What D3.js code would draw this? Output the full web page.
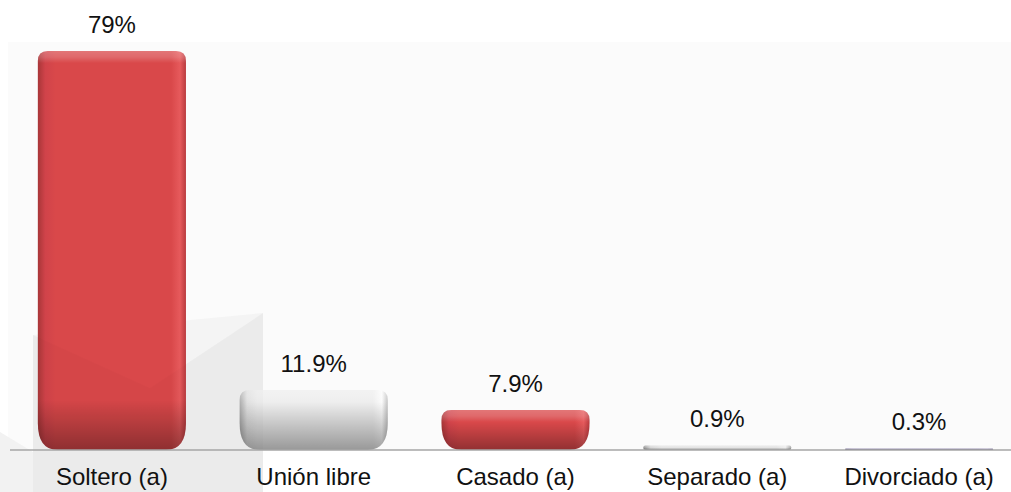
<!DOCTYPE html>
<html>
<head>
<meta charset="utf-8">
<script src="https://cdn.jsdelivr.net/npm/d3@7/dist/d3.min.js"></script>
<style>
  body { margin: 0; background: #ffffff; }
  text { font-family: "Liberation Sans", Arial, sans-serif; fill: #111; }
</style>
</head>
<body>
<script>
// categories and values (percent)
var categories = ["Soltero (a)", "Unión libre", "Casado (a)", "Separado (a)", "Divorciado (a)"];
var values = [79, 11.9, 7.9, 0.9, 0.3];
var valueLabels = ["79%", "11.9%", "7.9%", "0.9%", "0.3%"];
var barStyles = ["red", "white", "red", "gray", "purple"];

var W = 1011, H = 492;
var baseline = 450;

var svg = d3.select("body").append("svg")
    .attr("width", W)
    .attr("height", H);

var x = d3.scaleBand()
    .domain(categories)
    .range([11, 1020])
    .paddingInner(0.266)
    .paddingOuter(0.133);

var y = d3.scaleLinear()
    .domain([0, 80])
    .range([baseline, baseline - 404]);

var defs = svg.append("defs");

// horizontal gradients for the bar bodies
var palettes = {
    red:    ["#a83638", "#d0434a", "#d9484a", "#d9484a", "#e65a5c", "#b93a3e"],
    white:  ["#b0b0b0", "#e4e4e4", "#eeeeee", "#eeeeee", "#fbfbfb", "#c4c4c4"],
    gray:   ["#999999", "#d8d8d8", "#e4e4e4", "#e4e4e4", "#eeeeee", "#a8a8a8"],
    purple: ["#6f6690", "#8c82a8", "#9088ac", "#9088ac", "#9a92b4", "#786f98"]
};
var hOffsets = [0, 0.05, 0.12, 0.9, 0.96, 1];
Object.keys(palettes).forEach(function(k){
    var g = defs.append("linearGradient").attr("id", "h-" + k)
        .attr("x1", 0).attr("x2", 1).attr("y1", 0).attr("y2", 0);
    palettes[k].forEach(function(c, i){
        g.append("stop").attr("offset", hOffsets[i]).attr("stop-color", c);
    });
});

// plot background
svg.append("rect")
    .attr("x", 8).attr("y", 42)
    .attr("width", W - 8).attr("height", baseline - 42)
    .attr("fill", "#fbfbfb");

// faint watermark behind the bars
svg.append("polygon")
    .attr("points", "33,335 263,313 263,492 33,492")
    .attr("fill", "#f4f4f4");
svg.append("polygon")
    .attr("points", "33,335 150,388 263,313 263,492 33,492")
    .attr("fill", "#efefef");
svg.append("polygon")
    .attr("points", "0,432 33,452 33,492 0,492")
    .attr("fill", "#f2f2f2");

function barPath(x0, w, top, bottom){
    var h = bottom - top;
    if (h < 6) {
        var r = h / 2;
        return "M" + (x0 + r) + "," + top + "H" + (x0 + w - r) +
            "A" + r + "," + r + " 0 0 1 " + (x0 + w - r) + "," + bottom +
            "H" + (x0 + r) + "A" + r + "," + r + " 0 0 1 " + (x0 + r) + "," + top + "Z";
    }
    var rt = Math.min(10, h / 4);
    var rbx = 20, rby = Math.min(27, h - rt);
    return "M" + x0 + "," + (top + rt) +
        "Q" + x0 + "," + top + " " + (x0 + rt) + "," + top +
        "H" + (x0 + w - rt) +
        "Q" + (x0 + w) + "," + top + " " + (x0 + w) + "," + (top + rt) +
        "V" + (bottom - rby) +
        "Q" + (x0 + w) + "," + bottom + " " + (x0 + w - rbx) + "," + bottom +
        "H" + (x0 + rbx) +
        "Q" + x0 + "," + bottom + " " + x0 + "," + (bottom - rby) + "Z";
}

var data = categories.map(function(c, i){
    return { cat: c, value: values[i], label: valueLabels[i], style: barStyles[i] };
});

// per-bar vertical shading (top highlight, dark bottom)
data.forEach(function(d, i){
    var top = y(d.value), h = baseline - top;
    var g = defs.append("linearGradient").attr("id", "v-" + i)
        .attr("gradientUnits", "userSpaceOnUse")
        .attr("x1", 0).attr("x2", 0).attr("y1", top).attr("y2", baseline);
    var hi = Math.min(0.45, 12 / h);
    var darkStart = Math.max(hi, 1 - 50 / h);
    g.append("stop").attr("offset", 0).attr("stop-color", "#fff").attr("stop-opacity", 0.25);
    g.append("stop").attr("offset", hi * 0.5).attr("stop-color", "#fff").attr("stop-opacity", 0.18);
    g.append("stop").attr("offset", hi).attr("stop-color", "#fff").attr("stop-opacity", 0);
    g.append("stop").attr("offset", darkStart).attr("stop-color", "#000").attr("stop-opacity", 0);
    g.append("stop").attr("offset", 1).attr("stop-color", "#000").attr("stop-opacity", d.style === "white" ? 0.36 : 0.33);
});

var bars = svg.selectAll(".bar")
    .data(data)
    .enter().append("g")
    .attr("class", "bar");

bars.append("path")
    .attr("d", function(d){ return barPath(x(d.cat), x.bandwidth(), y(d.value), baseline); })
    .attr("fill", function(d){ return "url(#h-" + d.style + ")"; });

bars.append("path")
    .attr("d", function(d){ return barPath(x(d.cat), x.bandwidth(), y(d.value), baseline); })
    .attr("fill", function(d, i){ return "url(#v-" + i + ")"; });

// watermark glare over the tall bar
svg.append("polygon")
    .attr("points", "33,335 150,388 263,313 263,492 33,492")
    .attr("fill", "#000").attr("fill-opacity", 0.015);

// value labels
svg.selectAll(".val")
    .data(data)
    .enter().append("text")
    .attr("class", "val")
    .attr("x", function(d){ return x(d.cat) + x.bandwidth() / 2; })
    .attr("y", function(d){ return y(d.value) - 18; })
    .attr("text-anchor", "middle")
    .style("font-size", "24px")
    .text(function(d){ return d.label; });

// x axis
var axis = svg.append("g")
    .attr("transform", "translate(0," + baseline + ")")
    .call(d3.axisBottom(x).tickSize(0).tickPadding(0));
axis.select(".domain").remove();
axis.append("line")
    .attr("x1", 10).attr("x2", W)
    .attr("y1", 0).attr("y2", 0)
    .attr("stroke", "#a6a6a6").attr("stroke-width", 1.5);
axis.selectAll(".tick text")
    .attr("y", 35)
    .attr("dy", null)
    .style("font-size", "24px")
    .style("font-family", "'Liberation Sans', Arial, sans-serif")
    .attr("fill", "#111");
</script>
</body>
</html>
